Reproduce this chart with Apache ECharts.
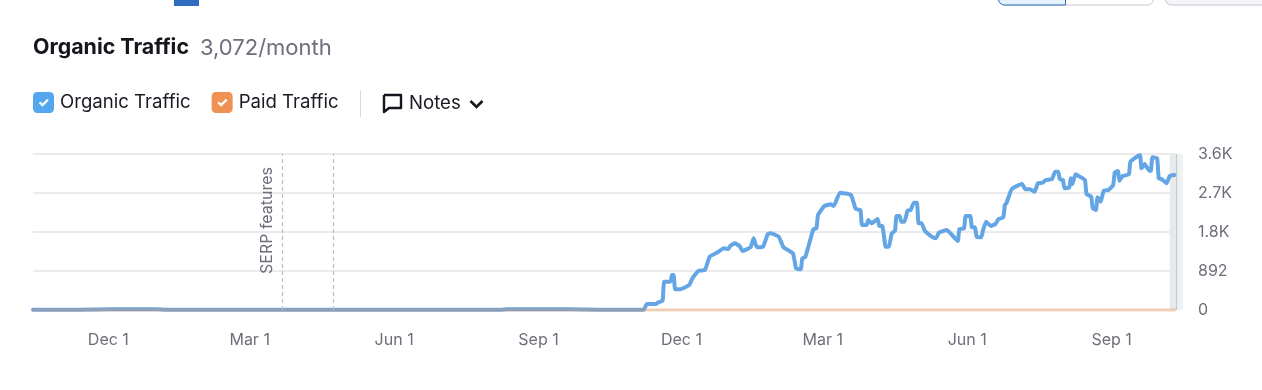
<!DOCTYPE html>
<html>
<head>
<meta charset="utf-8">
<title>Organic Traffic</title>
<script src="https://cdn.jsdelivr.net/npm/echarts@6/dist/echarts.min.js"></script>
<style>
  html, body { margin: 0; padding: 0; background: #fff; }
  #chart { width: 1262px; height: 390px; }
</style>
</head>
<body>
<div id="chart"></div>
<script>
// x values are days counted from the first day of the chart (mid October)
var lastDay = 728;
var tickDays = [48, 138, 230, 322, 413, 503, 595, 687];
var tickLabels = ['Dec 1', 'Mar 1', 'Jun 1', 'Sep 1', 'Dec 1', 'Mar 1', 'Jun 1', 'Sep 1'];
var yTickLabels = ['0', '892', '1.8K', '2.7K', '3.6K'];
var yMax = 3568;
var yStep = 892;

var organicDays = [0, 30, 50, 79, 85, 160, 200, 298, 302, 342, 360, 385, 389, 391, 397, 398, 401, 402, 406, 407, 408, 409, 412, 418, 420, 424, 428, 431, 436, 440, 443, 444, 447, 450, 452, 457, 459, 461, 465, 468, 470, 475, 478, 484, 486, 489, 490, 492, 497, 499, 500, 504, 508, 510, 514, 521, 524, 527, 528, 531, 532, 534, 538, 539, 541, 543, 545, 547, 549, 550, 552, 553, 555, 557, 559, 561, 563, 564, 566, 568, 572, 575, 577, 582, 589, 590, 593, 594, 597, 598, 600, 601, 604, 605, 607, 610, 613, 615, 618, 619, 620, 623, 625, 630, 632, 635, 638, 640, 643, 645, 649, 651, 653, 654, 656, 657, 660, 661, 662, 664, 666, 670, 671, 674, 675, 677, 678, 680, 682, 685, 688, 689, 691, 692, 694, 698, 699, 705, 706, 708, 711, 712, 713, 716, 717, 719, 722, 724, 727];
var organicValues = [6, 6, 16, 16, 8, 8, 6, 6, 18, 18, 8, 6, 6, 137, 137, 170, 213, 647, 647, 800, 800, 473, 473, 572, 725, 899, 915, 1219, 1320, 1411, 1395, 1464, 1525, 1464, 1349, 1434, 1640, 1434, 1448, 1738, 1754, 1676, 1434, 1297, 954, 931, 1182, 1219, 1846, 1868, 2173, 2378, 2417, 2378, 2683, 2630, 2310, 2287, 1944, 1944, 2058, 1983, 2081, 1921, 1921, 1448, 1448, 1754, 1814, 2150, 2150, 2019, 2019, 2271, 2287, 2454, 2454, 1983, 1983, 1814, 1692, 1640, 1768, 1830, 1578, 1846, 1868, 2150, 2150, 1891, 1891, 1676, 1663, 1814, 2019, 1921, 1967, 2081, 2120, 2401, 2440, 2744, 2806, 2882, 2760, 2760, 2705, 2898, 2911, 2973, 2989, 3163, 3163, 2989, 2973, 2783, 2806, 3012, 2882, 3103, 3065, 2973, 2653, 2591, 2326, 2287, 2577, 2477, 2728, 2744, 2859, 3149, 3179, 2957, 3065, 3103, 3392, 3545, 3241, 3339, 3186, 3186, 3492, 3469, 3012, 2989, 2898, 3065, 3088];
var paidDays = [0, 200, 400, 600, 728];
var paidValues = [0, 0, 0, 0, 0];
var noteDays = [159, 191];
var noteLabel = 'SERP features';

function toPairs(days, values) {
  return days.map(function (d, i) { return [d, values[i]]; });
}

var font = 'Inter';
var checkIcon = 'path://M4 0H16A4 4 0 0 1 20 4V16A4 4 0 0 1 16 20H4A4 4 0 0 1 0 16V4A4 4 0 0 1 4 0Z M5.5 10.5L9 14L15 8L13.5 6.5L9 11L7 9Z';

var chart = echarts.init(document.getElementById('chart'));
var option = {
  animation: false,
  textStyle: { fontFamily: font },
  title: {
    left: 33,
    top: 36,
    padding: 0,
    text: '{a|Organic Traffic}{b|3,072/month}',
    textStyle: {
      rich: {
        a: { fontFamily: font, fontSize: 21.4, fontWeight: 700, color: '#14161c', lineHeight: 24 },
        b: { fontFamily: font, fontSize: 22, fontWeight: 400, color: '#6c6e79', lineHeight: 24, padding: [0, 0, 0, 11] }
      }
    }
  },
  legend: {
    left: 33,
    top: 92,
    padding: 0,
    icon: checkIcon,
    itemWidth: 21,
    itemHeight: 21,
    itemGap: 21,
    selectedMode: false,
    textStyle: { fontFamily: font, fontSize: 18.6, color: '#191b23', padding: [3, 0, 0, 1] },
    data: ['Organic Traffic', 'Paid Traffic']
  },
  grid: { left: 33, right: 86, top: 154, bottom: 80 },
  xAxis: {
    type: 'value',
    min: 0,
    max: lastDay,
    axisLine: { show: false },
    axisTick: { show: false },
    splitLine: { show: false },
    axisLabel: {
      customValues: tickDays,
      margin: 22,
      fontFamily: font,
      fontSize: 16,
      color: '#6c6e79',
      formatter: function (v) { return tickLabels[tickDays.indexOf(v)]; }
    }
  },
  yAxis: {
    type: 'value',
    position: 'right',
    min: 0,
    max: yMax,
    interval: yStep,
    axisLine: { show: false },
    axisTick: { show: false },
    splitLine: { lineStyle: { color: '#e4e5e9', width: 1.5 } },
    axisLabel: {
      margin: 22,
      fontFamily: font,
      fontSize: 16,
      color: '#6c6e79',
      formatter: function (v, i) { return yTickLabels[i]; }
    }
  },
  series: [
    {
      name: 'Organic Traffic',
      type: 'line',
      z: 2,
      data: toPairs(organicDays, organicValues),
      showSymbol: false,
      smooth: 0.12,
      color: '#64a6e5',
      itemStyle: { color: '#55a6f0' },
      lineStyle: { color: '#64a6e5', width: 4, join: 'round', cap: 'round' },
      markArea: {
        silent: true,
        itemStyle: { color: '#e6eaeb' },
        data: [[{ xAxis: 724 }, { xAxis: lastDay }]]
      },
      markLine: {
        silent: true,
        symbol: 'none',
        lineStyle: { color: '#bcbec5', type: [4, 3], width: 1.2 },
        label: { show: false },
        data: noteDays.map(function (d, i) {
          return {
            xAxis: d,
            label: i === 0 ? {
              show: true,
              formatter: noteLabel,
              position: 'insideStartTop',
              distance: [36, 7],
              fontFamily: font,
              fontSize: 16,
              color: '#6c6e79'
            } : { show: false }
          };
        })
      }
    },
    {
      name: 'Paid Traffic',
      type: 'line',
      z: 3,
      data: toPairs(paidDays, paidValues),
      showSymbol: false,
      color: '#ee9152',
      itemStyle: { color: '#ee9152' },
      lineStyle: { color: 'rgba(238,145,82,0.32)', width: 3.5 }
    }
  ],
  graphic: [
    // cut off tab marker and buttons at the top of the screenshot
    { type: 'rect', shape: { x: 174, y: 0, width: 25, height: 6 }, style: { fill: '#2f6bc0' } },
    { type: 'rect', shape: { x: 998.5, y: -12, width: 155, height: 17, r: 6 }, style: { fill: '#fff', stroke: '#c4c7cf', lineWidth: 1 } },
    { type: 'rect', shape: { x: 998.5, y: -12, width: 67, height: 17, r: [6, 0, 0, 6] }, style: { fill: '#e6f2fb', stroke: '#2f6bc0', lineWidth: 1 } },
    { type: 'rect', shape: { x: 1165.5, y: -12, width: 110, height: 17, r: 6 }, style: { fill: '#f4f5f9', stroke: '#c4c7cf', lineWidth: 1 } },
    // notes control next to the legend
    { type: 'line', shape: { x1: 360.5, y1: 90, x2: 360.5, y2: 117 }, style: { stroke: '#d6d8dd', lineWidth: 1 } },
    { type: 'polyline', shape: { points: [[384, 95], [401, 95], [401, 108], [389, 108], [384, 112], [384, 95]] }, style: { fill: 'none', stroke: '#14161c', lineWidth: 2.4, lineJoin: 'round' } },
    { type: 'text', x: 409, y: 103, style: { text: 'Notes', font: '18.6px Inter', fill: '#191b23', textVerticalAlign: 'middle' } },
    { type: 'polyline', shape: { points: [[470.5, 101], [476.5, 107], [482.5, 101]] }, style: { fill: 'none', stroke: '#14161c', lineWidth: 2.6 } },
    // end of data marker at the right edge of the plot
    { type: 'rect', shape: { x: 1177, y: 154, width: 6, height: 156 }, style: { fill: '#eff2f2' } },
    { type: 'line', shape: { x1: 1176.5, y1: 154, x2: 1176.5, y2: 310 }, style: { stroke: '#c6ccd0', lineWidth: 1.5 } }
  ]
};
chart.setOption(option);
</script>
</body>
</html>
